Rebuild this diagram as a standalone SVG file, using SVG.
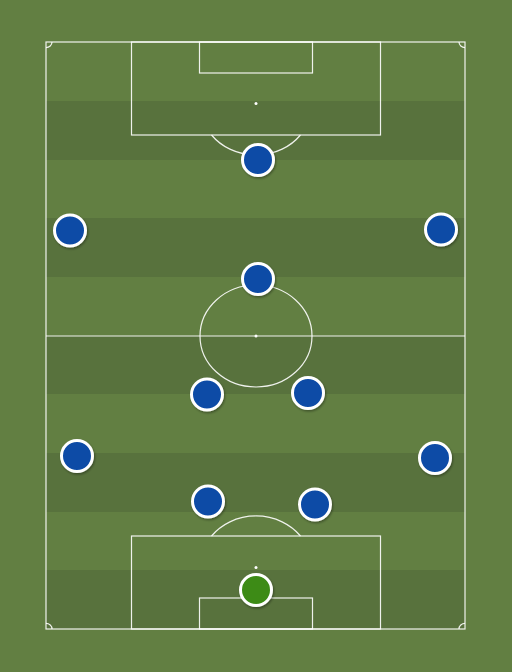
<svg xmlns="http://www.w3.org/2000/svg" width="512" height="672" viewBox="0 0 512 672">
<defs>
<style>
.ln{fill:none;stroke:#ffffff;stroke-width:1.2;stroke-opacity:0.9}
.dk{fill:#58723d}
.pl{fill:#0c4ba6;stroke:#ffffff;stroke-width:3;filter:url(#sh)}
.gk{fill:#3c8b17;stroke:#ffffff;stroke-width:3;filter:url(#sh)}
.spot{fill:#ffffff}
</style>
<filter id="sh" x="-50%" y="-50%" width="200%" height="200%">
<feDropShadow dx="1" dy="1.5" stdDeviation="1.2" flood-color="#000000" flood-opacity="0.35"/>
</filter>
</defs>
<rect width="512" height="672" fill="#627f42"/>
<g id="stripes">
<rect class="dk" x="46" y="101" width="419" height="59"/>
<rect class="dk" x="46" y="218" width="419" height="59"/>
<rect class="dk" x="46" y="336" width="419" height="58"/>
<rect class="dk" x="46" y="453" width="419" height="59"/>
<rect class="dk" x="46" y="570" width="419" height="59"/>
</g>
<g id="markings">
<rect class="ln" x="46" y="42" width="419" height="587"/>
<line class="ln" x1="46" y1="336" x2="465" y2="336"/>
<ellipse class="ln" cx="256" cy="336" rx="56" ry="51"/>
<circle class="spot" cx="256" cy="336" r="1.5"/>
<rect class="ln" x="131.5" y="42" width="249" height="93"/>
<rect class="ln" x="199.5" y="42" width="113" height="31"/>
<circle class="spot" cx="256" cy="103.5" r="1.5"/>
<path class="ln" d="M211.5 135 A56 51 0 0 0 300.5 135"/>
<rect class="ln" x="131.5" y="536" width="249" height="93"/>
<rect class="ln" x="199.5" y="598" width="113" height="31"/>
<circle class="spot" cx="256" cy="567.5" r="1.5"/>
<path class="ln" d="M211.5 536 A56 51 0 0 1 300.5 536"/>
<path class="ln" d="M52 42 A6 5.6 0 0 1 46 47.6"/>
<path class="ln" d="M459 42 A6 5.6 0 0 0 465 47.6"/>
<path class="ln" d="M46 623.4 A6 5.6 0 0 1 52 629"/>
<path class="ln" d="M465 623.4 A6 5.6 0 0 0 459 629"/>
</g>
<g id="players">
<circle id="p1" class="pl" cx="258" cy="160" r="15.5"/>
<circle id="p2" class="pl" cx="70" cy="230.5" r="15.5"/>
<circle id="p3" class="pl" cx="441" cy="229.5" r="15.5"/>
<circle id="p4" class="pl" cx="258" cy="279" r="15.5"/>
<circle id="p5" class="pl" cx="207" cy="394.5" r="15.5"/>
<circle id="p6" class="pl" cx="308" cy="393" r="15.5"/>
<circle id="p7" class="pl" cx="77" cy="456" r="15.5"/>
<circle id="p8" class="pl" cx="435" cy="458" r="15.5"/>
<circle id="p9" class="pl" cx="208" cy="501.5" r="15.5"/>
<circle id="p10" class="pl" cx="315" cy="504.5" r="15.5"/>
<circle id="gk" class="gk" cx="256" cy="590" r="15.5"/>
</g>
</svg>
